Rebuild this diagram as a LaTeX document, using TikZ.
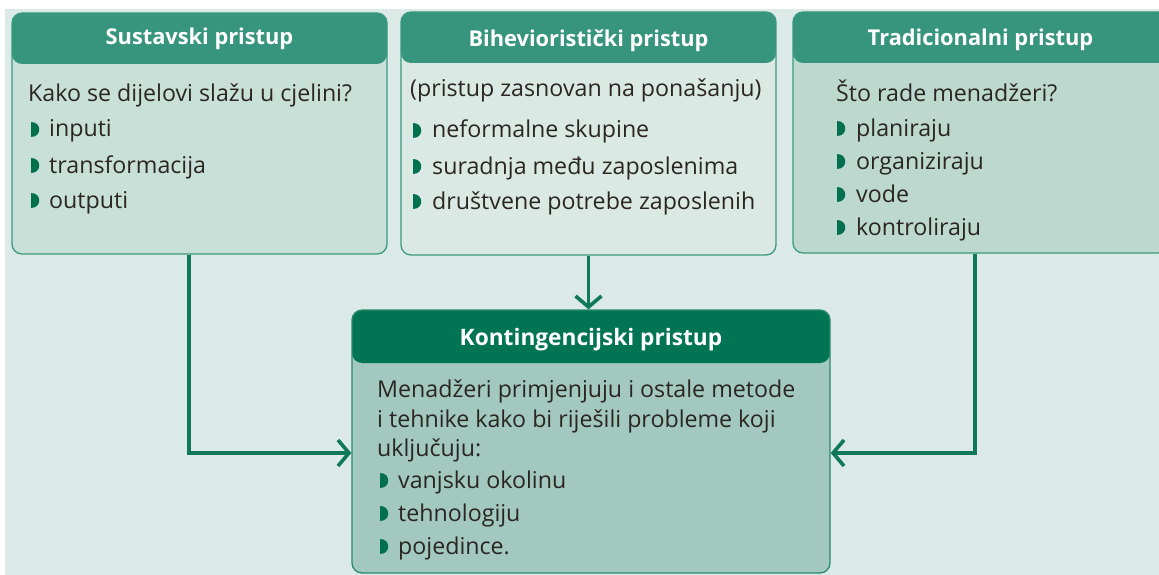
\documentclass[tikz,border=0pt]{standalone}
\usepackage{fontspec}
\setmainfont{Open Sans}
\usetikzlibrary{arrows.meta}
\definecolor{bgc}{HTML}{DBEAE6}
\definecolor{headc}{HTML}{37957D}
\definecolor{headd}{HTML}{007453}
\definecolor{bodya}{HTML}{C9E0D8}
\definecolor{bodyb}{HTML}{DBE9E5}
\definecolor{bodyc}{HTML}{BCD8CF}
\definecolor{bodyd}{HTML}{A2C8BF}
\definecolor{edgec}{HTML}{3A9A80}
\definecolor{edged}{HTML}{2A8A6C}
\definecolor{arrc}{HTML}{0F7857}
\definecolor{bulc}{HTML}{00704F}
\definecolor{txtc}{HTML}{2A2622}
\tikzset{
  box/.style={draw=edgec, line width=1.3pt, rounded corners=10pt, inner sep=0pt},
  hdr/.style={path picture={\fill[#1] (path picture bounding box.north west) rectangle ([yshift=-51pt]path picture bounding box.north east);}},
  hdrd/.style={path picture={\fill[headd] (path picture bounding box.north west) rectangle ([yshift=-53pt]path picture bounding box.north east);}},
  htxt/.style={anchor=base, inner sep=0pt, text=white, font=\fontsize{21.8}{25}\selectfont\bfseries},
  htxtd/.style={anchor=base, inner sep=0pt, text=white, font=\fontsize{22.7}{26}\selectfont\bfseries},
  txt/.style={anchor=base west, inner sep=0pt, text=txtc, font=\fontsize{23.2}{28}\selectfont},
  arr/.style={draw=arrc, line width=3.6pt, -{Straight Barb[length=11pt,width=26pt,line width=3.6pt]}},
}
\newcommand\bulmark[2]{\fill[bulc] (#1,#2) -- ++(0,-15) .. controls +(11,0) and +(11,0) .. ++(0,15) -- cycle;}
\begin{document}
\begin{tikzpicture}[x=1pt,y=-1pt]
\useasboundingbox (0,0) rectangle (1159,575);
\fill[bgc] (5,9) rectangle (1159,575);
% boxes
\node[box, fill=bodya, hdr=headc, minimum width=375pt, minimum height=241pt] (b1) at (199.5,133.5) {};
\node[box, fill=bodyb, hdr=headc, minimum width=375pt, minimum height=243pt] (b2) at (588.5,133.5) {};
\node[box, fill=bodyc, hdr=headc, minimum width=375pt, minimum height=241pt] (b3) at (980.5,132.5) {};
\node[box, draw=edged, fill=bodyd, hdrd, minimum width=478pt, minimum height=263pt] (b4) at (591,441.5) {};
% headers
\node[htxt] (h1) at (199.5,45) {Sustavski pristup};
\node[htxt] (h2) at (588.5,47) {Bihevioristički pristup};
\node[htxt] (h3) at (980.5,46) {Tradicionalni pristup};
\node[htxtd] (h4) at (591,345) {Kontingencijski pristup};
% box 1
\node[txt] (t11) at (28,102) {Kako se dijelovi slažu u cjelini?};
\bulmark{31}{137}\node[txt] (t12) at (49,137) {inputi};
\bulmark{31}{173}\node[txt] (t13) at (49,173) {transformacija};
\bulmark{31}{208}\node[txt] (t14) at (49,208) {outputi};
% box 2
\node[txt] (t21) at (410,97) {(pristup zasnovan na ponašanju)};
\bulmark{413}{138}\node[txt] (t22) at (432,138) {neformalne skupine};
\bulmark{413}{174}\node[txt] (t23) at (432,174) {suradnja među zaposlenima};
\bulmark{413}{209}\node[txt] (t24) at (432,209) {društvene potrebe zaposlenih};
% box 3
\node[txt] (t31) at (836,102) {Što rade menadžeri?};
\bulmark{837}{136}\node[txt] (t32) at (856,136) {planiraju};
\bulmark{837}{169}\node[txt] (t33) at (856,169) {organiziraju};
\bulmark{837}{202}\node[txt] (t34) at (856,202) {vode};
\bulmark{837}{235}\node[txt] (t35) at (856,235) {kontroliraju};
% box 4
\node[txt] (t41) at (377,397) {Menadžeri primjenjuju i ostale metode};
\node[txt] (t42) at (377,427) {i tehnike kako bi riješili probleme koji};
\node[txt] (t43) at (377,456) {uključuju:};
\bulmark{380}{488}\node[txt] (t44) at (398,488) {vanjsku okolinu};
\bulmark{380}{521}\node[txt] (t45) at (398,521) {tehnologiju};
\bulmark{380}{554}\node[txt] (t46) at (398,554) {pojedince.};
% connectors
\coordinate (k1) at (189,453);
\coordinate (k3) at (975,453);
\draw[arr] (b1.south -| k1) -- (k1) -- (b4.west |- k1);
\draw[arr] (b2.south) -- (b2.south |- b4.north);
\draw[arr] (b3.south -| k3) -- (k3) -- (b4.east |- k3);
\end{tikzpicture}
\end{document}
